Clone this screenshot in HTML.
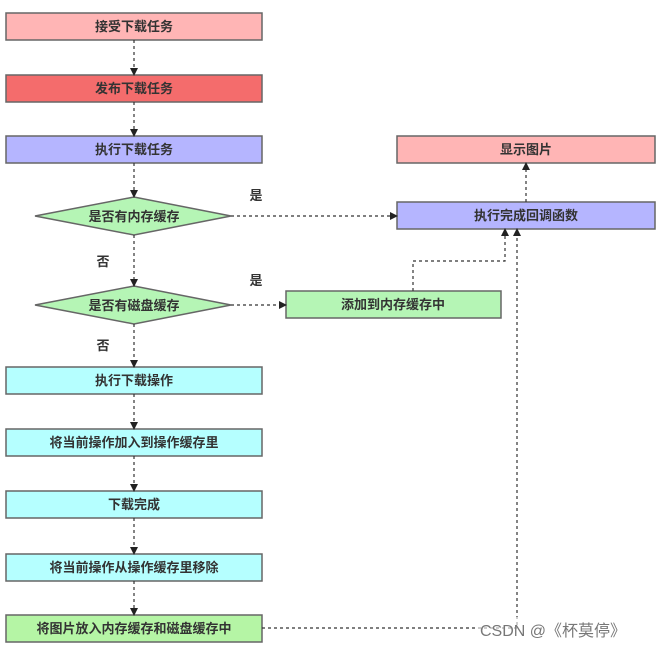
<!DOCTYPE html>
<html><head><meta charset="utf-8"><style>
html,body{margin:0;padding:0;background:#fff;}
svg text{font-family:"Liberation Sans","Noto Sans CJK SC",sans-serif;font-size:13px;fill:#333;font-weight:bold;}
</style></head><body>
<svg width="656" height="649" viewBox="0 0 656 649" xmlns="http://www.w3.org/2000/svg">
<defs>
<marker id="a" markerWidth="8" markerHeight="8" refX="7" refY="4" orient="auto" markerUnits="userSpaceOnUse">
<path d="M0,0 L8,4 L0,8 z" fill="#222"/></marker>
</defs>
<g stroke="#666" stroke-width="1.5">
<rect x="6" y="13" width="256" height="27" fill="#ffb5b5"/>
<rect x="6" y="75" width="256" height="27" fill="#f46c6c"/>
<rect x="6" y="136" width="256" height="27" fill="#b5b5ff"/>
<polygon points="35,216 134,197 231,216 134,235" fill="#b5f5b5"/>
<polygon points="35,305 134,286 231,305 134,324" fill="#b5f5b5"/>
<rect x="6" y="367" width="256" height="27" fill="#b5ffff"/>
<rect x="6" y="429" width="256" height="27" fill="#b5ffff"/>
<rect x="6" y="491" width="256" height="27" fill="#b5ffff"/>
<rect x="6" y="554" width="256" height="27" fill="#b5ffff"/>
<rect x="6" y="615" width="256" height="27" fill="#b5f5a5"/>
<rect x="397" y="136" width="258" height="27" fill="#ffb5b5"/>
<rect x="397" y="202" width="258" height="27" fill="#b5b5ff"/>
<rect x="286" y="291" width="215" height="27" fill="#b5f5b5"/>
</g>
<g stroke="#333" stroke-width="1.2" stroke-dasharray="3,3" fill="none" marker-end="url(#a)">
<line x1="134" y1="40" x2="134" y2="75"/>
<line x1="134" y1="102" x2="134" y2="136"/>
<line x1="134" y1="163" x2="134" y2="197"/>
<line x1="134" y1="235" x2="134" y2="286"/>
<line x1="134" y1="324" x2="134" y2="367"/>
<line x1="134" y1="394" x2="134" y2="429"/>
<line x1="134" y1="456" x2="134" y2="491"/>
<line x1="134" y1="518" x2="134" y2="554"/>
<line x1="134" y1="581" x2="134" y2="615"/>
<line x1="231" y1="216" x2="397" y2="216"/>
<line x1="231" y1="305" x2="286" y2="305"/>
<line x1="526" y1="202" x2="526" y2="163"/>
<polyline points="413,291 413,261 505,261 505,229"/>
<polyline points="262,628 517,628 517,229"/>
</g>
<g text-anchor="middle">
<text x="134" y="31">接受下载任务</text>
<text x="134" y="93">发布下载任务</text>
<text x="134" y="154">执行下载任务</text>
<text x="134" y="221">是否有内存缓存</text>
<text x="134" y="310">是否有磁盘缓存</text>
<text x="134" y="385">执行下载操作</text>
<text x="134" y="447">将当前操作加入到操作缓存里</text>
<text x="134" y="509">下载完成</text>
<text x="134" y="572">将当前操作从操作缓存里移除</text>
<text x="134" y="633">将图片放入内存缓存和磁盘缓存中</text>
<text x="526" y="154">显示图片</text>
<text x="526" y="220">执行完成回调函数</text>
<text x="393" y="309">添加到内存缓存中</text>
<text x="256" y="200">是</text>
<text x="256" y="285">是</text>
<text x="103" y="266">否</text>
<text x="103" y="350">否</text>
</g>
<rect x="478" y="617" width="170" height="26" fill="#fff" opacity="0.6"/>
<text x="480" y="636" style="font-size:16px;font-weight:normal;fill:#777;">CSDN @《杯莫停》</text>
</svg>
</body></html>
